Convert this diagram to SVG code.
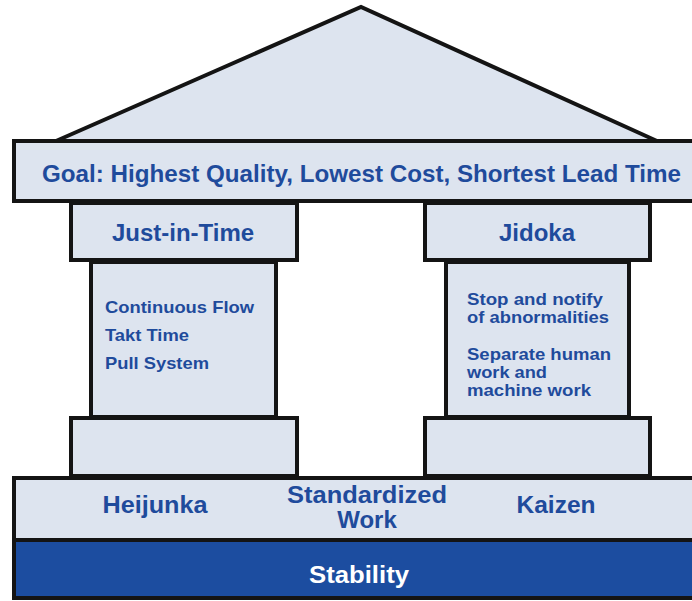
<svg xmlns="http://www.w3.org/2000/svg" width="692" height="601" viewBox="0 0 692 601">
<style>
.blk{fill:#dde4ef;stroke:#141414;stroke-width:4}
.t{font-family:"Liberation Sans",Arial,sans-serif;font-weight:bold;fill:#1f4b9c}
.big{font-size:24px;text-anchor:middle}
.sm{font-size:17px}
</style>
<rect width="692" height="601" fill="#ffffff"/>
<g id="roof"><polygon class="blk" points="56,141 361,7 657,141" stroke-width="3.5"/></g>
<g id="goal">
<rect class="blk" x="14" y="141" width="690" height="60"/>
<text class="t" x="42" y="182" font-size="24" textLength="639" lengthAdjust="spacingAndGlyphs">Goal: Highest Quality, Lowest Cost, Shortest Lead Time</text>
</g>
<g id="jit">
<rect class="blk" x="71" y="203" width="226" height="57"/>
<text class="t big" x="183" y="241" font-size="25">Just-in-Time</text>
</g>
<g id="jit-shaft">
<rect class="blk" x="91" y="262" width="185" height="155"/>
<text class="t sm" x="105" y="313" textLength="149" lengthAdjust="spacingAndGlyphs">Continuous Flow</text>
<text class="t sm" x="105" y="341" textLength="84" lengthAdjust="spacingAndGlyphs">Takt Time</text>
<text class="t sm" x="105" y="369" textLength="104" lengthAdjust="spacingAndGlyphs">Pull System</text>
</g>
<g id="jit-base"><rect class="blk" x="71" y="418" width="226" height="58"/></g>
<g id="jidoka">
<rect class="blk" x="425" y="203" width="225" height="57"/>
<text class="t big" x="537" y="241" font-size="25">Jidoka</text>
</g>
<g id="jidoka-shaft">
<rect class="blk" x="446" y="262" width="183" height="155"/>
<text class="t sm" x="467" y="305" textLength="136" lengthAdjust="spacingAndGlyphs">Stop and notify</text>
<text class="t sm" x="467" y="323" textLength="142" lengthAdjust="spacingAndGlyphs">of abnormalities</text>
<text class="t sm" x="467" y="360" textLength="144" lengthAdjust="spacingAndGlyphs">Separate human</text>
<text class="t sm" x="467" y="378" textLength="80" lengthAdjust="spacingAndGlyphs">work and</text>
<text class="t sm" x="467" y="396" textLength="124" lengthAdjust="spacingAndGlyphs">machine work</text>
</g>
<g id="jidoka-base"><rect class="blk" x="425" y="418" width="225" height="58"/></g>
<g id="foundation">
<rect class="blk" x="14" y="478" width="690" height="62"/>
<text class="t big" x="155" y="513" textLength="105" lengthAdjust="spacingAndGlyphs">Heijunka</text>
<text class="t big" x="367" y="503" font-size="22" textLength="160" lengthAdjust="spacingAndGlyphs">Standardized</text>
<text class="t big" x="367" y="528" font-size="22">Work</text>
<text class="t big" x="556" y="513" textLength="79" lengthAdjust="spacingAndGlyphs">Kaizen</text>
</g>
<g id="stability">
<rect x="14" y="540" width="690" height="58" fill="#1c4da0" stroke="#141414" stroke-width="4"/>
<text class="big" x="359" y="583" font-family="Liberation Sans,Arial,sans-serif" font-weight="bold" fill="#ffffff" textLength="100" lengthAdjust="spacingAndGlyphs">Stability</text>
</g>
<g id="connectors"></g>
</svg>
